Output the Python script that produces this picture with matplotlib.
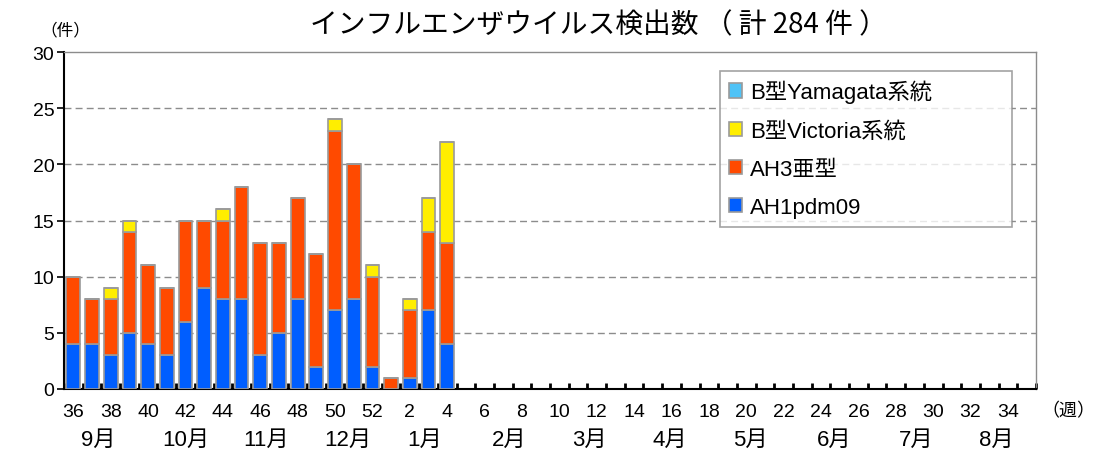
import matplotlib
matplotlib.use("Agg")
import matplotlib.pyplot as plt
import numpy as np

plt.rcParams['font.family'] = ['Liberation Sans', 'Noto Sans CJK JP', 'DejaVu Sans']

weeks = [36, 37, 38, 39, 40, 41, 42, 43, 44, 45, 46, 47, 48, 49, 50, 51, 52] + list(range(1, 36))
ah1 = [4, 4, 3, 5, 4, 3, 6, 9, 8, 8, 3, 5, 8, 2, 7, 8, 2, 0, 1, 7, 4]
ah3 = [6, 4, 5, 9, 7, 6, 9, 6, 7, 10, 10, 8, 9, 10, 16, 12, 8, 1, 6, 7, 9]
vic = [0, 0, 1, 1, 0, 0, 0, 0, 1, 0, 0, 0, 0, 0, 1, 0, 1, 0, 1, 3, 9]
yam = [0] * 21
months = ['9月', '10月', '11月', '12月', '1月', '2月', '3月', '4月', '5月', '6月', '7月', '8月']
month_pos = [1.35, 6.0, 10.3, 14.7, 18.8, 23.3, 27.6, 31.9, 36.2, 40.7, 45.1, 49.4]

series = [
    ('AH1pdm09', ah1, '#005EFF'),
    ('AH3亜型', ah3, '#FF4A00'),
    ('B型Victoria系統', vic, '#FFEE00'),
    ('B型Yamagata系統', yam, '#4FC3F7'),
]

W, H = 1095, 456
fig = plt.figure(figsize=(W / 100, H / 100), dpi=100)
ax = fig.add_axes([64 / W, 1 - 390 / H, (1036 - 64) / W, (390 - 53) / H])

x = np.arange(len(ah1))
bottom = np.zeros(len(ah1))
handles = {}
for name, vals, col in series:
    v = np.array(vals, dtype=float)
    b = ax.bar(x, v, 0.74, bottom=bottom, color=col, edgecolor='#9a9a9a', linewidth=1.2, label=name, zorder=3)
    handles[name] = b
    bottom += v

ax.set_xlim(-0.5, len(weeks) - 0.5)
ax.set_ylim(0, 30)
ax.set_yticks(range(0, 31, 5))
ax.tick_params(axis='y', labelsize=14, length=5, direction='out', width=1.2, pad=2)
for yv in range(5, 30, 5):
    ax.axhline(yv, color='#8c8c8c', linestyle=(0, (5, 3)), linewidth=1, zorder=1)

ax.set_xticks(np.arange(0, len(weeks), 2))
ax.set_xticklabels([str(w) for w in weeks[::2]], fontsize=14)
ax.set_xticks(np.arange(-0.5, len(weeks), 1), minor=True)
ax.tick_params(axis='x', which='major', length=0, pad=10)
ax.tick_params(axis='x', which='minor', length=4, direction='in', width=2, color='black')

for sp in ['top', 'right']:
    ax.spines[sp].set_color('#8c8c8c')
    ax.spines[sp].set_linewidth(1)
ax.spines['left'].set_linewidth(1.5)
ax.spines['bottom'].set_linewidth(1.5)

for m, p in zip(months, month_pos):
    ax.text(p, -(440 - 390) / 337, m, transform=ax.get_xaxis_transform(), ha='center', va='center',
            fontsize=16, family=['Liberation Sans', 'Noto Sans CJK JP'])

fig.text(1068 / W, 1 - 411 / H, '（週）', ha='center', va='center', fontsize=13,
         family=['Noto Sans CJK JP'])
fig.text(65 / W, 1 - 31 / H, '（件）', ha='center', va='center', fontsize=12,
         family=['Noto Sans CJK JP'])
fig.text(598 / W, 1 - 25 / H, 'インフルエンザウイルス検出数 （ 計 284 件 ）', ha='center', va='center',
         fontsize=20, family=['Noto Sans CJK JP'])

order = ['B型Yamagata系統', 'B型Victoria系統', 'AH3亜型', 'AH1pdm09']
x0 = (720 - 64) / 972
wd = (1012 - 720) / 972
top = (390 - 72) / 337
leg = ax.legend([handles[n] for n in order], order, loc='upper left', mode='expand',
                bbox_to_anchor=(x0, 0.45, wd, top - 0.45),
                frameon=True, fancybox=False, edgecolor='#8c8c8c', handlelength=0.6,
                handleheight=0.6, handletextpad=0.35, labelspacing=0.77, borderpad=0.4,
                borderaxespad=0,
                prop={'family': ['Liberation Sans', 'Noto Sans CJK JP'], 'size': 16})
leg.get_frame().set_linewidth(1.2)

fig.savefig('out.png', dpi=100)
